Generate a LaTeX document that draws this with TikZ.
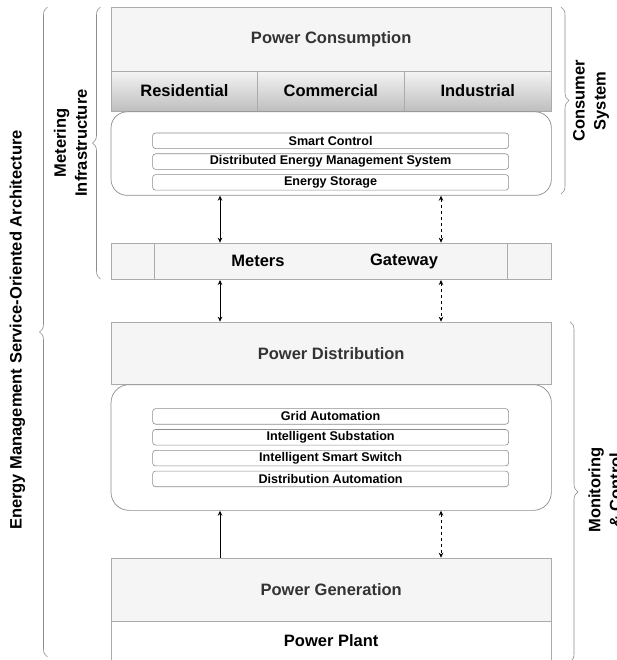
\documentclass[tikz,border=0pt]{standalone}
\usepackage{fontspec}
\setmainfont{Liberation Sans}
\usetikzlibrary{arrows.meta,decorations.pathreplacing}

\definecolor{boxgray}{HTML}{F5F5F5}
\definecolor{edgegray}{HTML}{ABABAB}
\definecolor{framegray}{HTML}{8C8C8C}
\definecolor{headgray}{HTML}{333333}
\definecolor{shadetop}{HTML}{F4F4F4}
\definecolor{shadebot}{HTML}{BEBEBE}

\newcommand{\headfont}{\fontsize{16.5}{19.5}\selectfont\bfseries}
\newcommand{\itemfont}{\fontsize{12.6}{14}\selectfont\bfseries}
\newcommand{\sidefont}{\fontsize{16.5}{21}\selectfont\bfseries}

\begin{document}
\begin{tikzpicture}[x=1pt,y=-1pt,
	layer/.style={draw=edgegray, line width=0.7pt, fill=boxgray, text=headgray,
		font=\headfont, anchor=north west, inner sep=0pt},
	cell/.style={layer, text=black},
	frame/.style={draw=framegray, line width=0.7pt, fill=white, anchor=north west,
		inner sep=0pt, minimum width=440.3pt},
	item/.style={draw=framegray, line width=0.6pt, fill=white, rounded corners=3pt,
		anchor=north west, inner sep=0pt, minimum width=356pt, minimum height=15.6pt,
		font=\itemfont},
	link/.style={line width=0.8pt, {Stealth[length=5pt,width=4.5pt]}-{Stealth[length=5pt,width=4.5pt]}},
	dlink/.style={link, dash pattern=on 3pt off 3pt},
	bracket/.style={draw=framegray, line width=0.6pt, decorate,
		decoration={brace, amplitude=8pt}},
	side/.style={rotate=90, align=center, font=\sidefont}]
	\useasboundingbox (0,0) rectangle (616,660);

	% consumer side
	\node[layer, minimum width=440.3pt, minimum height=63.4pt] (pc) at (110.7,7.3) {Power Consumption};
	\node[cell, minimum width=146.6pt, minimum height=40pt, top color=shadetop, bottom color=shadebot] (res) at (110.7,70.7) {Residential};
	\node[cell, minimum width=146.4pt, minimum height=40pt, top color=shadetop, bottom color=shadebot] (com) at (257.3,70.7) {Commercial};
	\node[cell, minimum width=147.3pt, minimum height=40pt, top color=shadetop, bottom color=shadebot] (ind) at (403.7,70.7) {Industrial};
	\node[frame, minimum height=83.5pt, rounded corners=16pt] (cons) at (110.7,111.5) {};
	\node[item] (sc) at (152.3,132.7) {Smart Control};
	\node[item] (dems) at (152.3,153.5) {Distributed Energy Management System};
	\node[item] (es) at (152.3,174.3) {Energy Storage};

	% metering row
	\node[layer, minimum width=43.6pt, minimum height=36.6pt] (ml) at (110.7,242.7) {};
	\node[layer, minimum width=352.4pt, minimum height=36.6pt] (mrow) at (154.3,242.7) {};
	\node[layer, minimum width=44.3pt, minimum height=36.6pt] (mr) at (506.7,242.7) {};
	\node[font=\headfont] (meters) at (258,261) {Meters};
	\node[font=\headfont] (gateway) at (404,261) {Gateway};

	% distribution side
	\node[layer, minimum width=440.3pt, minimum height=62.6pt] (pd) at (110.7,321.7) {Power Distribution};
	\node[frame, minimum height=125.7pt, rounded corners=18pt] (dist) at (110.7,384.3) {};
	\node[item] (ga) at (152.3,408.3) {Grid Automation};
	\node[item] (isub) at (152.3,429.2) {Intelligent Substation};
	\node[item] (iss) at (152.3,450) {Intelligent Smart Switch};
	\node[item] (da) at (152.3,470.8) {Distribution Automation};
	\node[layer, minimum width=440.3pt, minimum height=63pt] (pg) at (110.7,557.7) {Power Generation};
	\node[cell, fill=white, minimum width=440.3pt, minimum height=39pt] (pp) at (110.7,620.7) {Power Plant};

	% connectors
	\coordinate (lx) at (220,0);
	\coordinate (rx) at (441,0);
	\draw[link] (cons.south -| lx) -- (mrow.north -| lx);
	\draw[dlink] (cons.south -| rx) -- (mrow.north -| rx);
	\draw[link] (mrow.south -| lx) -- (pd.north -| lx);
	\draw[dlink] (mrow.south -| rx) -- (pd.north -| rx);
	\draw[link, {Stealth[length=5pt,width=4.5pt]}-] (dist.south -| lx) -- (pg.north -| lx);
	\draw[dlink] (dist.south -| rx) -- (pg.north -| rx);

	% brackets and side labels
	\draw[bracket] (47.5,657) -- (47.5,7);
	\draw[bracket] (100.5,279) -- (100.5,7);
	\draw[bracket] (561,7) -- (561,194);
	\draw[bracket] (570,321.7) -- (570,662);
	\node[side] (soa) at (17.5,330) {Energy Management Service-Oriented Architecture};
	\node[side] (ami) at (70.5,143) {Metering\\Infrastructure};
	\node[side] (cs) at (591,101) {Consumer\\System};
	\node[side] (mc) at (605,490) {Monitoring\\\& Control};
\end{tikzpicture}
\end{document}
